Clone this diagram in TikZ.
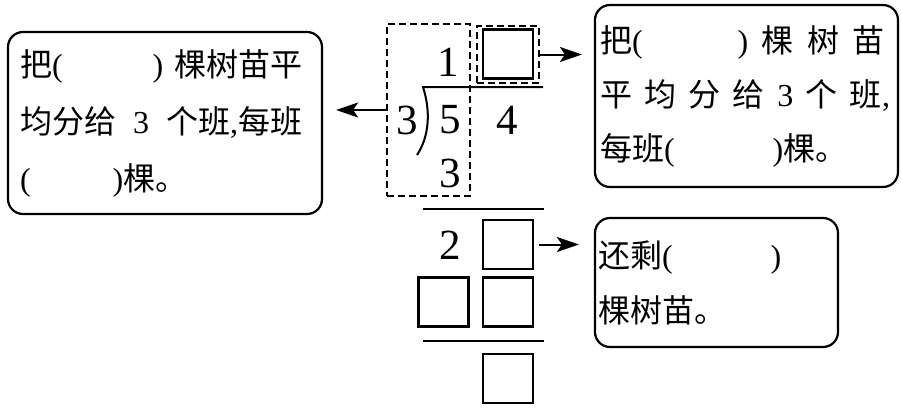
\documentclass[tikz,border=0pt]{standalone}
\usepackage{fontspec}
\setmainfont{Liberation Serif}
\newfontfamily\cjk{Noto Sans CJK SC}
\usetikzlibrary{positioning}
\usetikzlibrary{arrows.meta}
\tikzstyle{tbox}=[draw,line width=2.2pt,rounded corners=15pt,inner ysep=0pt,align=left]
\tikzstyle{blank}=[draw,line width=2.2pt,minimum width=50pt,minimum height=49pt,inner sep=0pt]
\tikzstyle{dbox}=[draw,line width=1.6pt,dash pattern=on 7pt off 4pt,inner sep=0pt]
\tikzstyle{num}=[font=\fontsize{43}{43}\selectfont,inner sep=0pt]
\tikzstyle{arr}=[line width=2pt,-{Stealth[length=22pt,width=15pt,inset=5pt]}]

\begin{document}
\begin{tikzpicture}[x=1pt,y=-1pt]

	\useasboundingbox (0,0) rectangle (902,407);

	% text boxes
	\node [tbox,minimum width=314pt,minimum height=182pt,inner xsep=12pt,text width=290pt,
		font=\fontsize{32}{57}\selectfont] (lbox) at (165,123)
		{\makebox[282pt][s]{{\cjk 把}(\hspace{90pt})\hfill{\cjk 棵树苗平}}\\
		 \makebox[282pt][s]{{\cjk 均分给}\hfill 3\hfill{\cjk 个班},{\cjk 每班}}\\
		 (\hspace{82pt}){\cjk 棵。}};

	\node [tbox,minimum width=303pt,minimum height=182pt,inner xsep=5pt,text width=293pt,
		font=\fontsize{32}{54}\selectfont] (rbox) at (746.5,96)
		{\makebox[285pt][s]{{\cjk 把}(\hspace{95pt})\hfill{\cjk 棵}\hfill{\cjk 树}\hfill{\cjk 苗}}\\
		 \makebox[290pt][s]{{\cjk 平}\hfill{\cjk 均}\hfill{\cjk 分}\hfill{\cjk 给}\hfill 3\hfill{\cjk 个}\hfill{\cjk 班},}\\
		 {\cjk 每班}(\hspace{98pt}){\cjk 棵。}};

	\node [tbox,minimum width=243pt,minimum height=129pt,inner xsep=3pt,text width=237pt,
		font=\fontsize{32}{55}\selectfont] (sbox) at (716.5,282.5)
		{{\cjk 还剩}(\hspace{98pt})\\
		 {\cjk 棵树苗。}};

	% division
	\node [dbox,minimum width=83pt,minimum height=172pt] (quot) at (428.5,110) {};
	\node [dbox,minimum width=62pt,minimum height=57pt] (qbox) at (508,54.5) {};
	\node [blank] (q1) at (508,54) {};

	\node [num] (d1) at (448,62) {1};
	\node [num] (dv) at (407,120) {3};
	\node [num] (n1) at (450,120) {5};
	\node [num] (n2) at (507,120) {4};
	\node [num] (p1) at (450,173) {3};
	\node [num] (r1) at (450,245) {2};

	\node [blank] (b1) at (508,244.5) {};
	\node [blank] (b2) at (443.5,302) {};
	\node [blank] (b3) at (508,302) {};
	\node [blank] (b4) at (508,378.5) {};

	\draw[line width=2pt] (543,87) -- (423,87) .. controls (431,112) and (429,137) .. (417,155);
	\draw[line width=2pt] (423,209) -- (544,209);
	\draw[line width=2pt] (423,341) -- (544,341);

	% arrows
	\draw[arr,shorten >=13pt] (quot.west) -- (quot.west -| lbox.east);
	\draw[arr,shorten >=12pt] (qbox.east) -- (qbox.east -| rbox.west);
	\draw[arr,shorten <=5pt,shorten >=15pt] (b1.east) -- (b1.east -| sbox.west);

\end{tikzpicture}
\end{document}
